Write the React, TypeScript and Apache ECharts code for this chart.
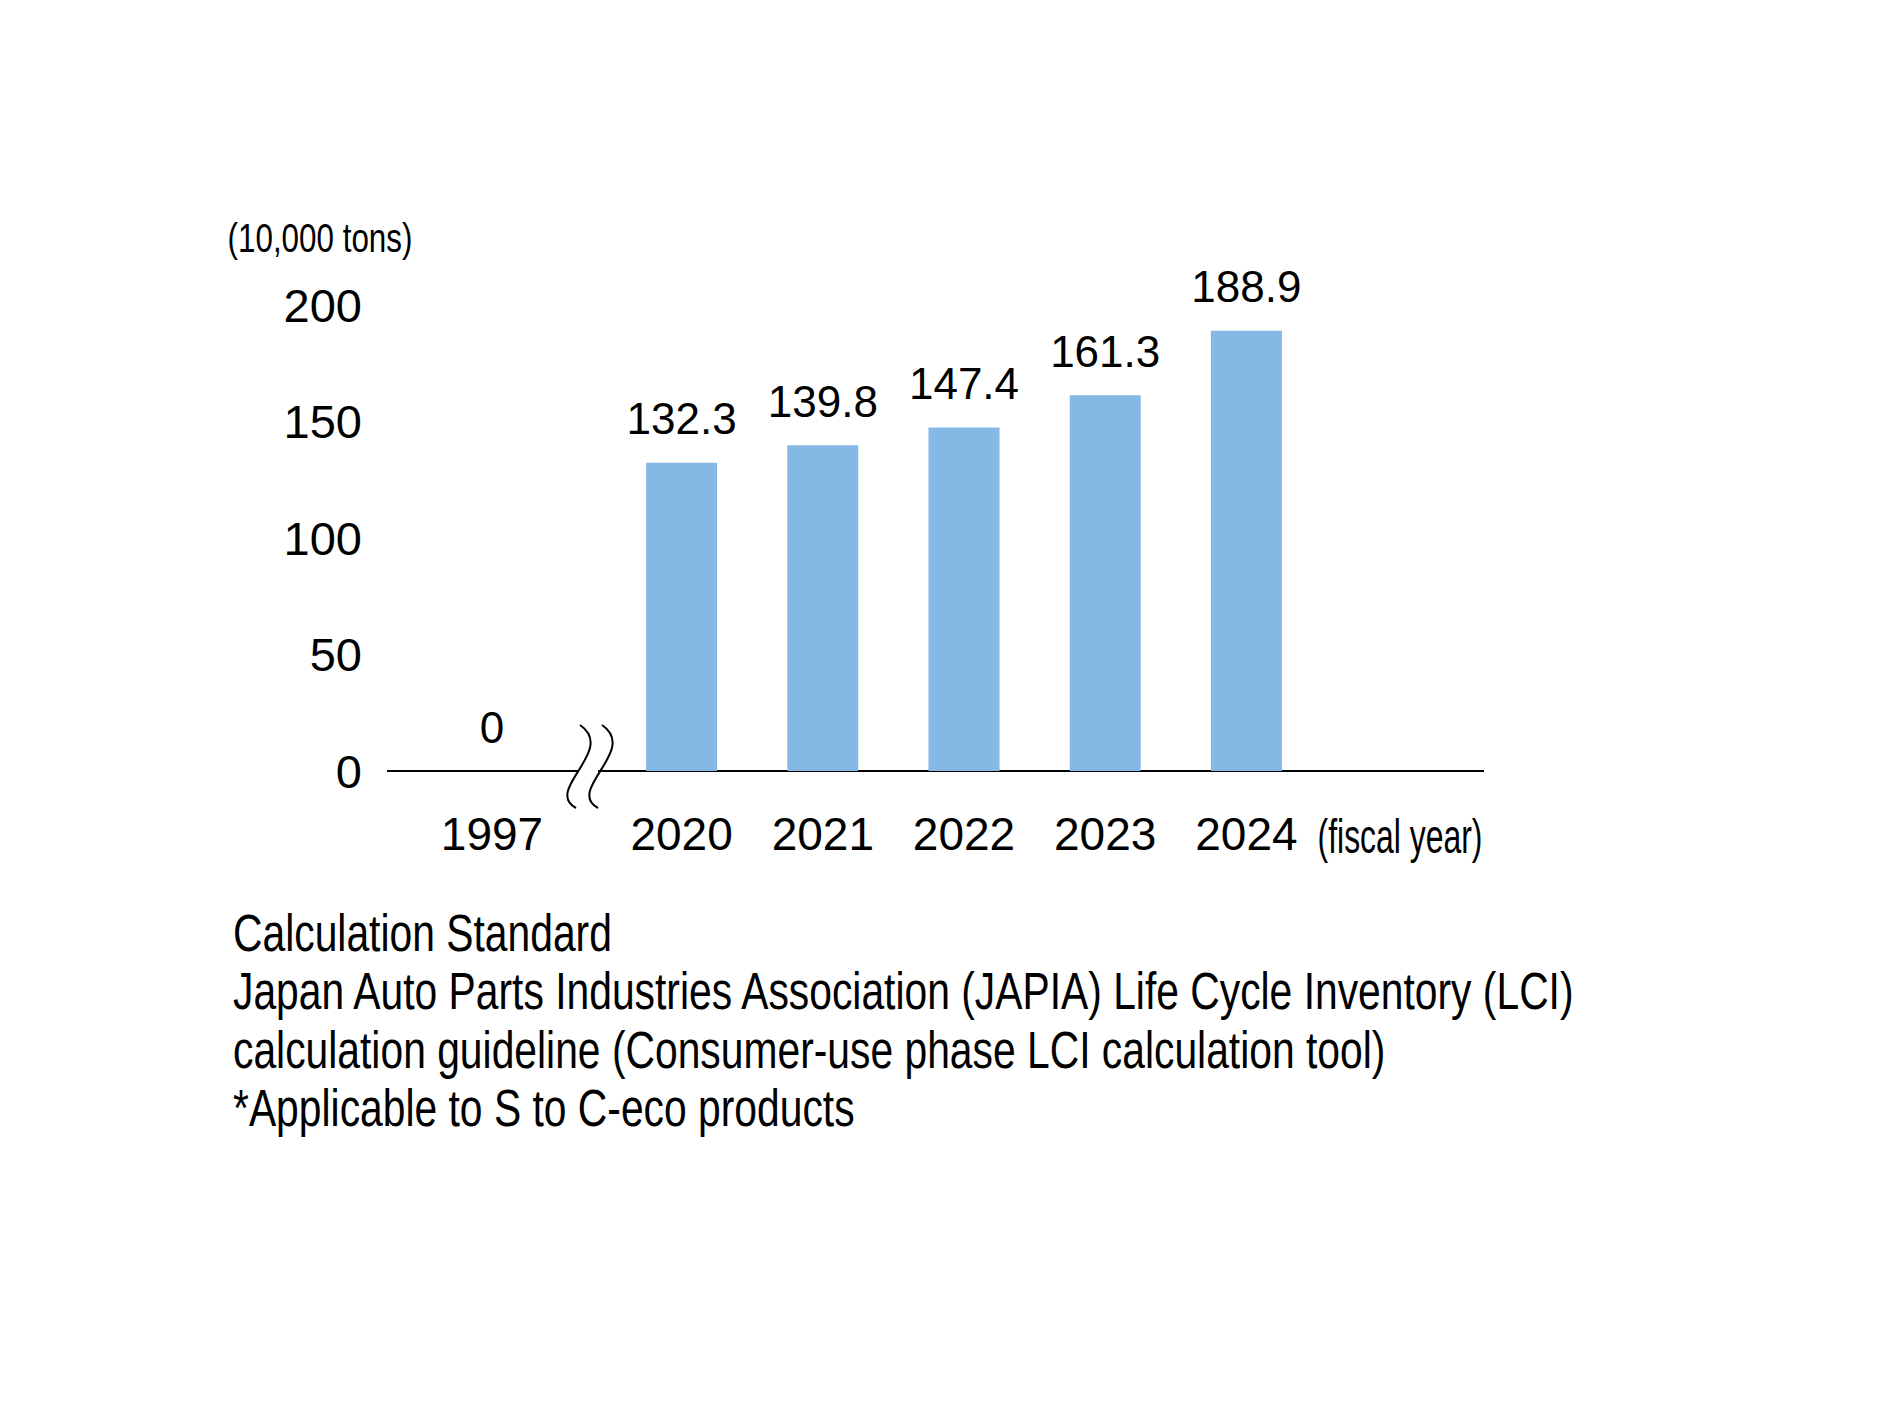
import React, { useEffect, useRef } from "react";
import * as echarts from "echarts";

const earlyCategories = ["1997"];
const earlyValues = [0];
const categories = ["2020", "2021", "2022", "2023", "2024"];
const values = [132.3, 139.8, 147.4, 161.3, 188.9];
const yMin = 0;
const yMax = 200;
const yInterval = 50;
const yUnitLabel = "(10,000 tons)";
const xUnitLabel = "(fiscal year)";
const notes = [
  "Calculation Standard",
  "Japan Auto Parts Industries Association (JAPIA) Life Cycle Inventory (LCI)",
  "calculation guideline (Consumer-use phase LCI calculation tool)",
  "*Applicable to S to C-eco products",
];

const FONT = "'Liberation Sans', 'Helvetica Neue', Arial, sans-serif";
const BAR_COLOR = "#86b8e6";

export default function App() {
  const ref = useRef<HTMLDivElement>(null);
  useEffect(() => {
    if (!ref.current) return;
    const chart = echarts.init(ref.current, undefined, { renderer: "svg" });

    const gridTop = 305;
    const gridBottom = 1417 - 771;
    const axisY = 771;

    const labelStyle = {
      show: true,
      position: "top" as const,
      distance: 22,
      color: "#000",
      fontFamily: FONT,
      fontSize: 44,
    };

    const noteGraphics = notes.map((t, i) => ({
      type: "text",
      x: 233,
      y: 933 + i * 58.5,
      scaleX: 0.785,
      style: {
        text: t,
        fill: "#000",
        fontFamily: FONT,
        fontSize: 52,
        align: "left",
        verticalAlign: "middle",
      },
    }));

    const breakLeft = {
      x1: 580, y1: 725, cpx1: 617, cpy1: 750, cpx2: 543, cpy2: 790, x2: 576, y2: 808,
    };
    const breakOffset = 22;

    chart.setOption({
      animation: false,
      backgroundColor: "#ffffff",
      grid: [
        { left: 387, width: 210, top: gridTop, bottom: gridBottom, containLabel: false },
        { left: 611, width: 706, top: gridTop, bottom: gridBottom, containLabel: false },
      ],
      xAxis: [
        {
          type: "category",
          gridIndex: 0,
          data: earlyCategories,
          axisLine: { show: false },
          axisTick: { show: false },
          axisLabel: { color: "#000", fontFamily: FONT, fontSize: 46, margin: 40 },
        },
        {
          type: "category",
          gridIndex: 1,
          data: categories,
          axisLine: { show: false },
          axisTick: { show: false },
          axisLabel: { color: "#000", fontFamily: FONT, fontSize: 46, margin: 40 },
        },
      ],
      yAxis: [
        {
          type: "value",
          gridIndex: 0,
          min: yMin,
          max: yMax,
          interval: yInterval,
          axisLine: { show: false },
          axisTick: { show: false },
          splitLine: { show: false },
          axisLabel: { color: "#000", fontFamily: FONT, fontSize: 47, margin: 25 },
        },
        {
          type: "value",
          gridIndex: 1,
          min: yMin,
          max: yMax,
          interval: yInterval,
          show: false,
          splitLine: { show: false },
        },
      ],
      series: [
        {
          type: "bar",
          xAxisIndex: 0,
          yAxisIndex: 0,
          data: earlyValues,
          barWidth: 71,
          itemStyle: { color: BAR_COLOR },
          label: labelStyle,
        },
        {
          type: "bar",
          xAxisIndex: 1,
          yAxisIndex: 1,
          data: values,
          barWidth: 71,
          itemStyle: { color: BAR_COLOR },
          label: labelStyle,
        },
      ],
      graphic: [
        {
          type: "line",
          shape: { x1: 387, y1: axisY, x2: 578, y2: axisY },
          style: { stroke: "#000", lineWidth: 2 },
        },
        {
          type: "line",
          shape: { x1: 598, y1: axisY, x2: 1484, y2: axisY },
          style: { stroke: "#000", lineWidth: 2 },
        },
        {
          type: "bezierCurve",
          shape: breakLeft,
          style: { stroke: "#000", lineWidth: 2, fill: "none" },
        },
        {
          type: "bezierCurve",
          shape: {
            x1: breakLeft.x1 + breakOffset, y1: breakLeft.y1,
            cpx1: breakLeft.cpx1 + breakOffset, cpy1: breakLeft.cpy1,
            cpx2: breakLeft.cpx2 + breakOffset, cpy2: breakLeft.cpy2,
            x2: breakLeft.x2 + breakOffset, y2: breakLeft.y2,
          },
          style: { stroke: "#000", lineWidth: 2, fill: "none" },
        },
        {
          type: "text",
          x: 320,
          y: 238,
          scaleX: 0.785,
          style: {
            text: yUnitLabel,
            fill: "#000",
            fontFamily: FONT,
            fontSize: 40,
            align: "center",
            verticalAlign: "middle",
          },
        },
        {
          type: "text",
          x: 1400,
          y: 837,
          scaleX: 0.665,
          style: {
            text: xUnitLabel,
            fill: "#000",
            fontFamily: FONT,
            fontSize: 48,
            align: "center",
            verticalAlign: "middle",
          },
        },
        ...noteGraphics,
      ],
    });
    return () => chart.dispose();
  }, []);
  return (
    <div
      ref={ref}
      style={{ position: "fixed", left: 0, top: 0, width: 1890, height: 1417, background: "#fff" }}
    />
  );
}
